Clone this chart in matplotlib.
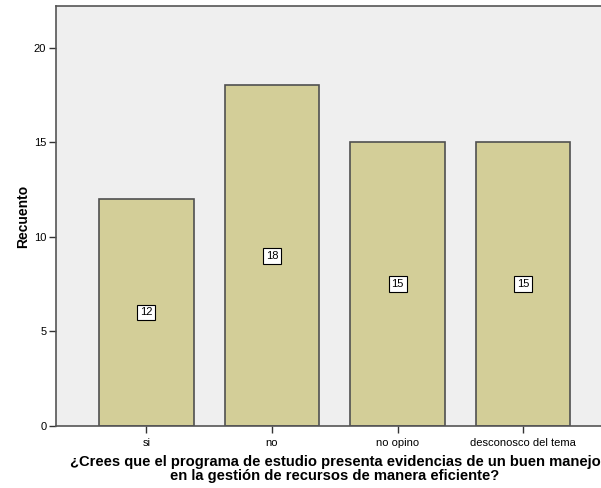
import matplotlib.pyplot as plt

categorias = ['si', 'no', 'no opino', 'desconosco del tema']
recuento = [12, 18, 15, 15]

plt.rcParams['font.family'] = ['Liberation Sans', 'DejaVu Sans']

fig = plt.figure(figsize=(6.01, 4.88), dpi=100)
ax = fig.add_axes([56 / 601, (488 - 426) / 488, 545 / 601, 420 / 488])
ax.set_facecolor('#efefef')

x = list(range(len(categorias)))
ax.bar(x, recuento, width=0.75, color='#d3ce98', edgecolor='#505050', linewidth=1.2, zorder=2)

for xi, v in zip(x, recuento):
    ax.text(xi, v / 2, str(v), ha='center', va='center', fontsize=8,
            bbox=dict(boxstyle='square,pad=0.25', facecolor='white', edgecolor='black', linewidth=0.8),
            zorder=3)

ax.set_xlim(-0.72, 3.62)
ax.set_ylim(0, 22.2)
ax.set_yticks([0, 5, 10, 15, 20])
ax.set_xticks(x)
ax.set_xticklabels(categorias, fontsize=8)
ax.tick_params(axis='both', labelsize=8, length=5, width=1, color='#333333', pad=2)
ax.tick_params(axis='x', pad=4)

for side in ['left', 'top', 'bottom']:
    ax.spines[side].set_color('#555555')
    ax.spines[side].set_linewidth(1.2)
ax.spines['right'].set_visible(False)

ax.set_ylabel('Recuento', fontsize=10, fontweight='bold', labelpad=3)
ax.set_xlabel('¿Crees que el programa de estudio presenta evidencias de un buen manejo\n'
              'en la gestión de recursos de manera eficiente?',
              fontsize=10.6, fontweight='bold', linespacing=1.05)
ax.xaxis.set_label_coords(0.512, -0.068)
ax.xaxis.label.set_va('top')

fig.savefig('out.png', dpi=100)
